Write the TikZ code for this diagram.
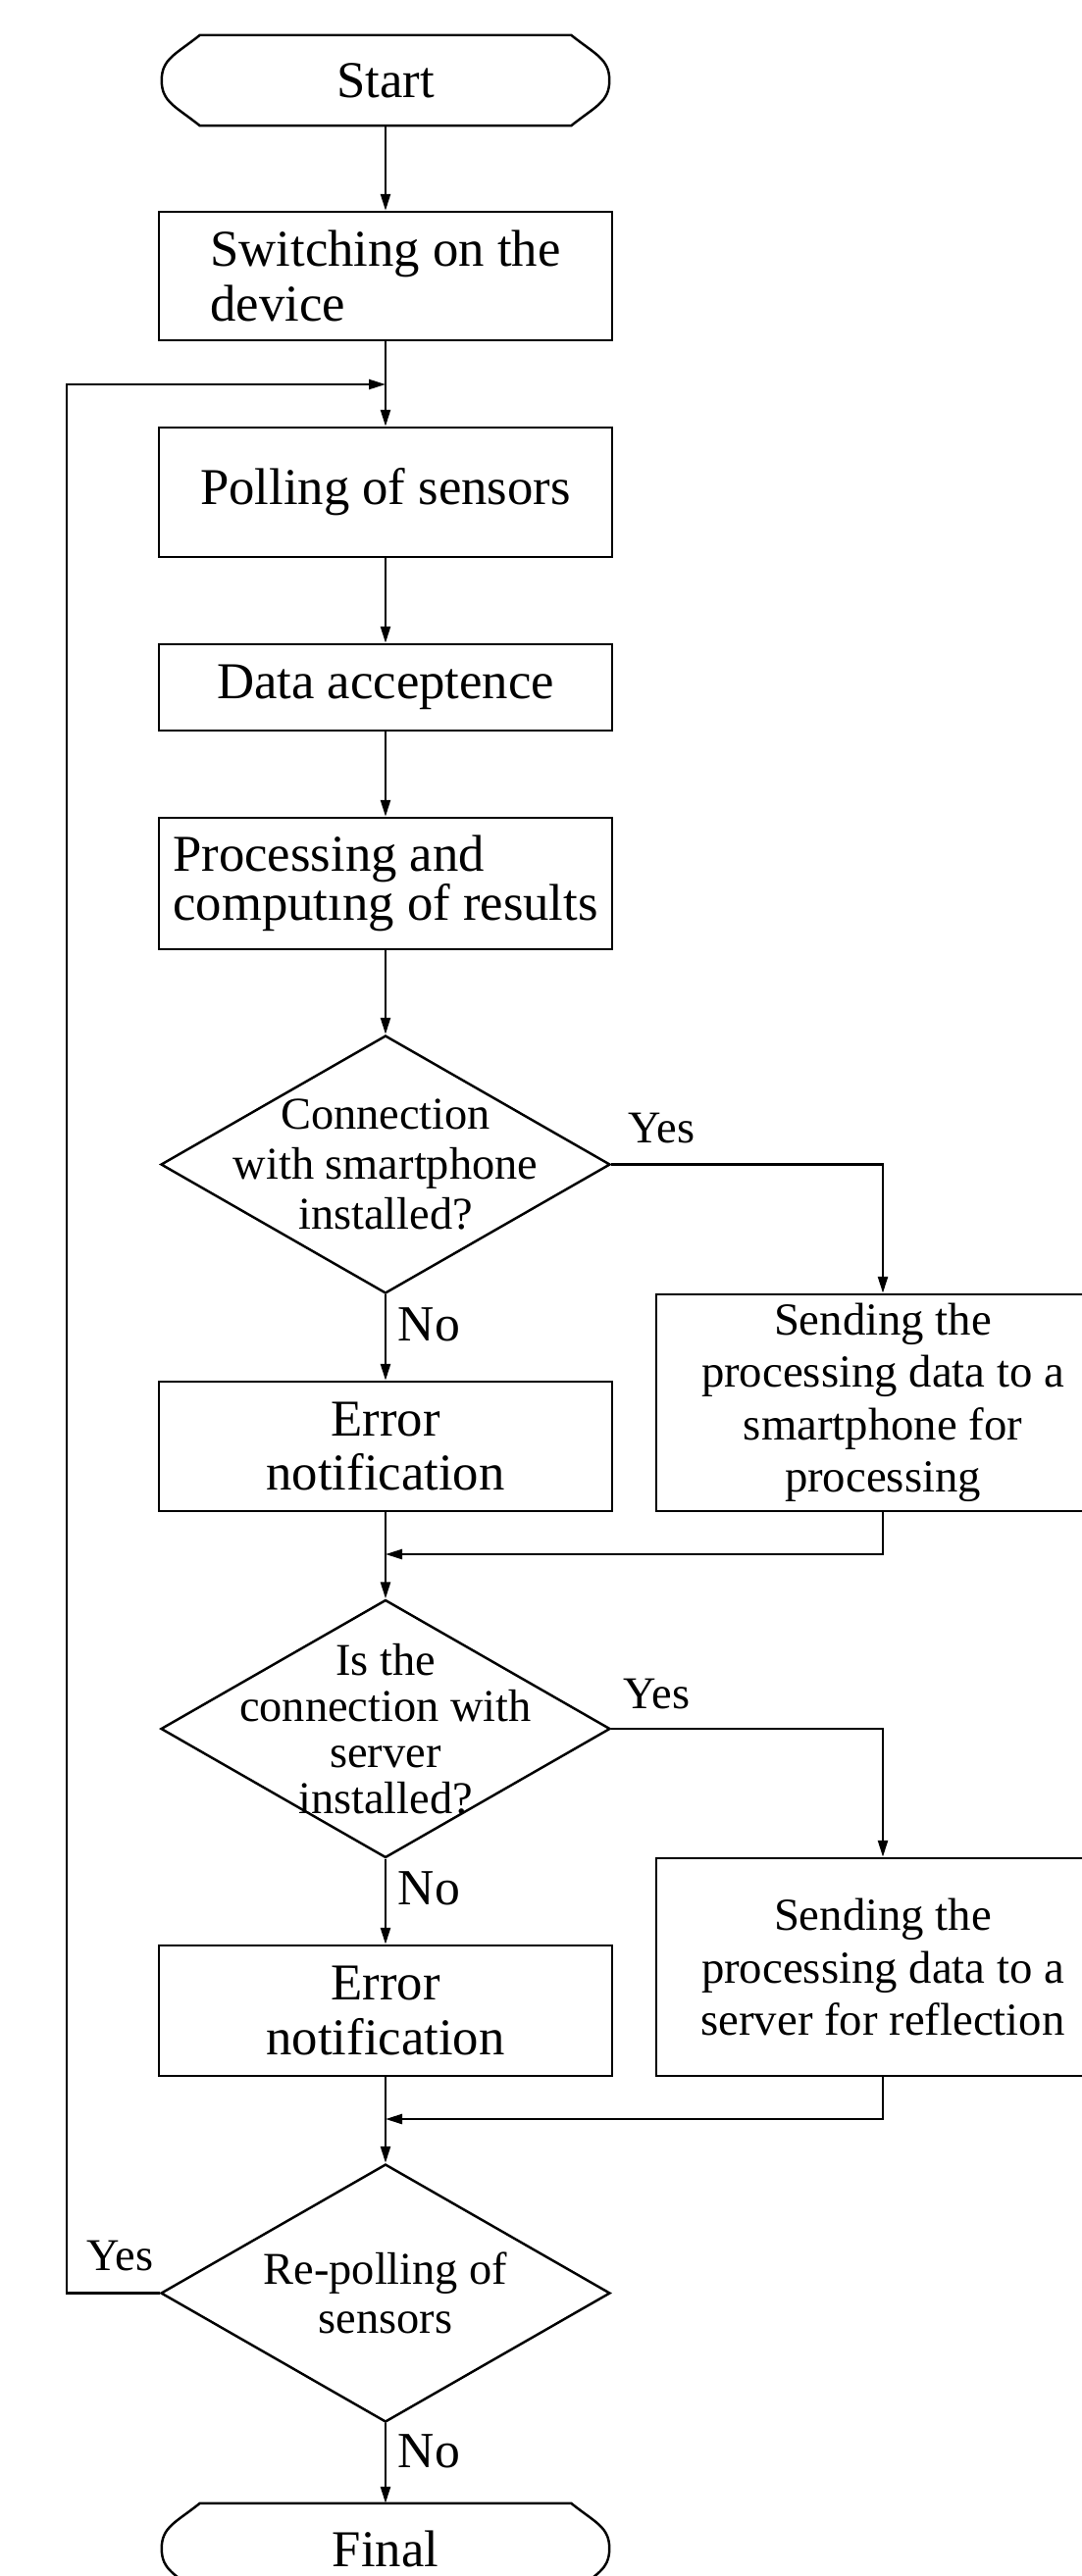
\documentclass[tikz,border=0pt]{standalone}
\usepackage{fontspec}
\setmainfont{Liberation Serif}
\usepackage{tikz}
\usetikzlibrary{shapes.geometric,arrows.meta}

\tikzset{
  procbox/.style={draw, rectangle, minimum width=4.62cm, align=center, inner sep=0pt,
    font=\fontsize{15}{15.8}\selectfont},
  sendbox/.style={draw, rectangle, minimum width=4.62cm, align=center, inner sep=0pt,
    font=\fontsize{13.3}{15.2}\selectfont},
  decision/.style={draw, diamond, minimum width=4.58cm, minimum height=2.63cm, inner sep=0pt},
  dtext/.style={align=center, inner sep=0pt, font=\fontsize{13.2}{14.6}\selectfont},
  terminal/.style={rectangle, minimum width=4.54cm, minimum height=0.9cm,
    font=\fontsize{15}{15.8}\selectfont},
  answer/.style={font=\fontsize{14.7}{15}\selectfont},
  yes/.style={font=\fontsize{13.2}{14}\selectfont, inner sep=0pt},
  flow/.style={-{Triangle[length=0.17cm,width=0.1cm]}}
}

\begin{document}
\begin{tikzpicture}[line width=0.7pt]
\useasboundingbox (0,0) rectangle (11.03,-26.27);
\clip (0,0) rectangle (11.03,-26.27);

\node[terminal] (start) at (3.93,-0.82) {Start};
\node[procbox, minimum height=1.31cm, align=left] (switch) at (3.93,-2.815) {Switching on the\\device};
\node[procbox, minimum height=1.32cm] (poll) at (3.93,-5.02) {Polling of sensors};
\node[procbox, minimum height=0.88cm] (accept) at (3.93,-7.01) {Data acceptence};
\node[procbox, minimum height=1.34cm, align=left, font=\fontsize{15}{14.2}\selectfont] (proc) at (3.93,-9.01) {Processing and\\computıng of results};

\node[decision] (conn1) at (3.93,-11.875) {};
\node[dtext] (conn1t) at (conn1) {Connection\\with smartphone\\installed?};
\node[procbox, minimum height=1.32cm] (err1) at (3.93,-14.75) {Error\\notification};
\node[sendbox, minimum height=2.21cm] (send1) at (9.0,-14.305) {Sending the\\processing data to a\\smartphone for\\processing};

\node[decision] (conn2) at (3.93,-17.63) {};
\node[dtext, font=\fontsize{13.2}{13.4}\selectfont] (conn2t) at (conn2) {Is the\\connection with\\server\\installed?};
\node[procbox, minimum height=1.33cm] (err2) at (3.93,-20.505) {Error\\notification};
\node[sendbox, minimum height=2.22cm] (send2) at (9.0,-20.06) {Sending the\\processing data to a\\server for reflection};

\node[decision] (conn3) at (3.93,-23.385) {};
\node[dtext, font=\fontsize{13.2}{14.2}\selectfont] (conn3t) at (conn3) {Re-polling of\\sensors};
\node[terminal] (final) at (3.93,-25.99) {Final};

% terminals
\foreach \term in {start, final} {
  \draw ([xshift=0.39cm]\term.north west) -- ([xshift=-0.39cm]\term.north east)
    .. controls +(0.25,-0.2) and +(0,0.22) .. (\term.east)
    .. controls +(0,-0.22) and +(0.25,0.2) .. ([xshift=-0.39cm]\term.south east)
    -- ([xshift=0.39cm]\term.south west)
    .. controls +(-0.25,0.2) and +(0,-0.22) .. (\term.west)
    .. controls +(0,0.22) and +(-0.25,-0.2) .. ([xshift=0.39cm]\term.north west) -- cycle;
}

\coordinate (join0) at (3.93,-3.92);
\coordinate (join1) at (3.93,-15.85);
\coordinate (join2) at (3.93,-21.61);
\coordinate (loopc) at (0.68,-23.385);

\draw[flow] (start) -- (switch);
\draw[flow] (switch) -- (poll);
\draw[flow] (poll) -- (accept);
\draw[flow] (accept) -- (proc);
\draw[flow] (proc) -- (conn1);

\draw[flow] (conn1) -- node[answer, right, pos=0.35] {No} (err1);
\draw[flow] (conn1.east) -| (send1);
\draw[flow] (err1) -- (conn2);
\draw[flow] (send1.south) |- (join1);

\draw[flow] (conn2) -- node[answer, right, pos=0.35] {No} (err2);
\draw[flow] (conn2.east) -| (send2);
\draw[flow] (err2) -- (conn3);
\draw[flow] (send2.south) |- (join2);

\draw[flow] (conn3) -- node[answer, right, pos=0.35] {No} (final);
\draw[flow] (conn3.west) -- (loopc) |- (join0);

\node[yes] (yes1) at (6.745,-11.51) {Yes};
\node[yes] (yes2) at (6.695,-17.28) {Yes};
\node[yes] (yes3) at (1.225,-23.01) {Yes};
\end{tikzpicture}
\end{document}
